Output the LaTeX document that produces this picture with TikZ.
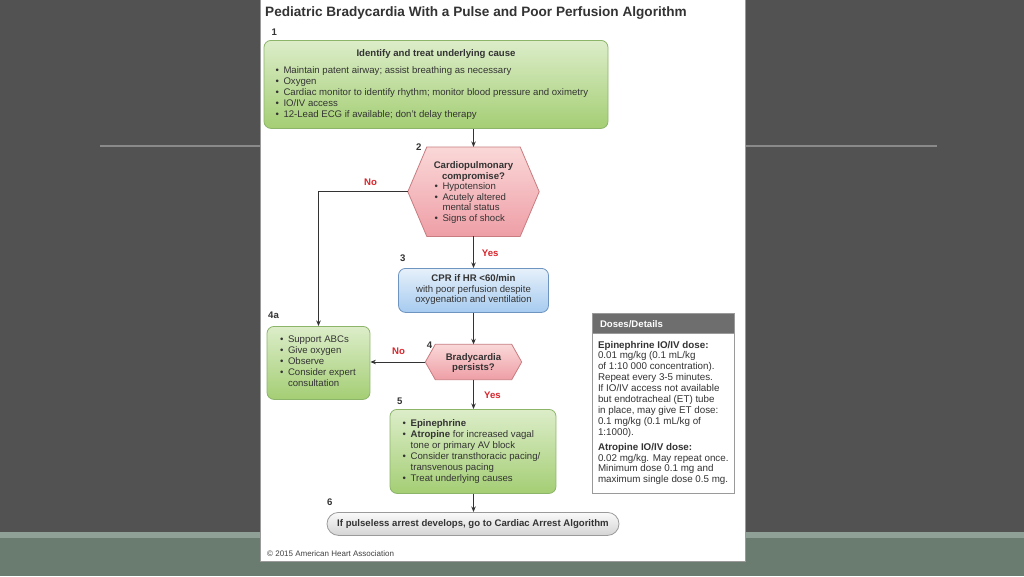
\documentclass[tikz,border=0pt]{standalone}
\usepackage{fontspec}
\setmainfont{Liberation Sans}
\usetikzlibrary{arrows.meta,calc}
\definecolor{bgdark}{HTML}{525252}
\definecolor{bandlight}{HTML}{8FA096}
\definecolor{bandgreen}{HTML}{6A7B6F}
\definecolor{rulegray}{HTML}{8A8A8A}
\definecolor{txt}{HTML}{333333}
\definecolor{gtop}{HTML}{DCEDC9}
\definecolor{gbot}{HTML}{A4CE74}
\definecolor{gline}{HTML}{8CB56A}
\definecolor{ptop}{HTML}{FAD8D8}
\definecolor{pbot}{HTML}{EE9EA6}
\definecolor{pline}{HTML}{C87C80}
\definecolor{btop}{HTML}{E6F0FA}
\definecolor{bbot}{HTML}{A6CBF0}
\definecolor{bline}{HTML}{6E94C0}
\definecolor{stop}{HTML}{FAFAFA}
\definecolor{sbot}{HTML}{D4D4D4}
\definecolor{sline}{HTML}{9A9A9A}
\definecolor{hdr}{HTML}{6E6E6E}
\definecolor{yesno}{HTML}{D9252B}
\pgfdeclarelayer{backdrop}
\pgfdeclarelayer{shapes}
\pgfsetlayers{backdrop,shapes,main}
\newcommand{\bitem}[1]{\mbox{\makebox[8pt][l]{\textbullet}#1}}
\newcommand{\bcont}[1]{\mbox{\hspace*{8pt}#1}}
\tikzset{
  boxbase/.style={inner sep=0pt, anchor=north, line width=0.8pt},
  greenbox/.style={boxbase, draw=gline, top color=gtop, bottom color=gbot, rounded corners=7pt},
  bluebox/.style={boxbase, draw=bline, top color=btop, bottom color=bbot, rounded corners=7pt},
  pillbox/.style={boxbase, draw=sline, top color=stop, bottom color=sbot, rounded corners=11.5pt},
  hextext/.style={inner sep=0pt, anchor=north},
  hexshape/.style={draw=pline, top color=ptop, bottom color=pbot, line width=0.8pt, line join=miter},
  steplabel/.style={font=\fontsize{9.6}{11}\selectfont\bfseries, anchor=base west, inner sep=0pt},
  yn/.style={font=\fontsize{9.6}{11}\selectfont\bfseries, text=yesno, anchor=base west, inner sep=0pt},
  arr/.style={draw=txt, line width=0.8pt, -{Stealth[length=5.5pt,width=4.5pt]}},
}
\begin{document}
\begin{tikzpicture}[x=1pt,y=-1pt, font=\fontsize{9.6}{11}\selectfont, text=txt]
\useasboundingbox (0,0) rectangle (1024,576);
\begin{pgfonlayer}{backdrop}
  \fill[bgdark] (0,0) rectangle (1024,576);
  \fill[bandlight] (0,532) rectangle (1024,537.5);
  \fill[bandgreen] (0,537.5) rectangle (1024,576);
  \draw[rulegray, line width=1.5pt] (100,146) -- (937,146);
  \filldraw[fill=white, draw=sline, line width=0.6pt] (260.7,-1) rectangle (745,561);
\end{pgfonlayer}

% title
\node[anchor=base west, inner sep=0pt, font=\fontsize{13.6}{16}\selectfont\bfseries, text=txt] (title) at (265,16)
  {Pediatric Bradycardia With a Pulse and Poor Perfusion Algorithm};

% step labels
\node[steplabel] (l1) at (271.5,35.5) {1};
\node[steplabel] (l2) at (416,150) {2};
\node[steplabel] (l3) at (400,261.7) {3};
\node[steplabel] (l4a) at (268,318) {4a};
\node[steplabel] (l4) at (426.7,348) {4};
\node[steplabel] (l5) at (397,404) {5};
\node[steplabel] (l6) at (327,505) {6};

% box 1
\node[greenbox, minimum width=344pt, text height=16.5pt, text depth=71.5pt] (b1) at (436,40)
 {\parbox[t]{321pt}{\raggedright
   \makebox[321pt]{\bfseries Identify and treat underlying cause}\\[5.5pt]
   \bitem{Maintain patent airway; assist breathing as necessary}\\
   \bitem{Oxygen}\\
   \bitem{Cardiac monitor to identify rhythm; monitor blood pressure and oximetry}\\
   \bitem{IO/IV access}\\
   \bitem{12-Lead ECG if available; don't delay therapy}}};

% decision 2
\node[hextext, minimum width=93pt, text height=21.7pt, text depth=67.3pt] (d2) at (473.5,147)
 {\fontsize{9.6}{10.5}\selectfont\parbox[t]{78pt}{\raggedright
   \makebox[78pt]{\bfseries Cardiopulmonary}\\
   \makebox[78pt]{\bfseries compromise?}\\
   \bitem{Hypotension}\\
   \bitem{Acutely altered}\\
   \bcont{mental status}\\
   \bitem{Signs of shock}}};
\coordinate (d2w) at ([xshift=-19pt]d2.west);
\coordinate (d2e) at ([xshift=19pt]d2.east);

% box 3
\node[bluebox, minimum width=150pt, text height=13pt, text depth=31pt] (b3) at (473.5,268)
 {\fontsize{9.6}{10.75}\selectfont\parbox[t]{150pt}{\centering
   \textbf{CPR if HR <60/min}\\
   with poor perfusion despite\\
   oxygenation and ventilation}};

% decision 4
\node[hextext, minimum width=76pt, text height=15.7pt, text depth=19.3pt] (d4) at (473.5,344.3)
 {\fontsize{9.6}{10.5}\selectfont\parbox[t]{76pt}{\centering\bfseries Bradycardia\\ persists?}};
\coordinate (d4w) at ([xshift=-10pt]d4.west);
\coordinate (d4e) at ([xshift=10pt]d4.east);

% box 4a
\node[greenbox, minimum width=103pt, text height=16.5pt, text depth=56.5pt] (b4a) at (318.5,326)
 {\parbox[t]{77pt}{\raggedright
   \bitem{Support ABCs}\\
   \bitem{Give oxygen}\\
   \bitem{Observe}\\
   \bitem{Consider expert}\\
   \bcont{consultation}}};

% box 5
\node[greenbox, minimum width=166pt, text height=17.3pt, text depth=66.7pt] (b5) at (473,409)
 {\parbox[t]{140.6pt}{\raggedright
   \bitem{\textbf{Epinephrine}}\\
   \bitem{\textbf{Atropine} for increased vagal}\\
   \bcont{tone or primary AV block}\\
   \bitem{Consider transthoracic pacing/}\\
   \bcont{transvenous pacing}\\
   \bitem{Treat underlying causes}}};

% box 6
\node[pillbox, minimum width=292pt, text height=14pt, text depth=9pt] (b6) at (473,512)
 {\bfseries If pulseless arrest develops, go to Cardiac Arrest Algorithm};

% doses box
\node[boxbase, minimum width=142pt, fill=hdr, draw=sline, text=white, font=\fontsize{9.6}{11}\selectfont\bfseries,
      text height=14.5pt, text depth=5.5pt] (dh) at (663,313)
 {\parbox[t]{126pt}{Doses/Details}};
\node[boxbase, minimum width=142pt, fill=white, draw=sline, text height=14.6pt, text depth=145.4pt] (dd) at (663,333)
 {\fontsize{9.8}{10.9}\selectfont\parbox[t]{130pt}{\raggedright
   \mbox{\textbf{Epinephrine IO/IV dose:}}\\
   \mbox{0.01 mg/kg (0.1 mL/kg}\\
   \mbox{of 1:10 000 concentration).}\\
   \mbox{Repeat every 3-5 minutes.}\\
   \mbox{If IO/IV access not available}\\
   \mbox{but endotracheal (ET) tube}\\
   \mbox{in place, may give ET dose:}\\
   \mbox{0.1 mg/kg (0.1 mL/kg of}\\
   \mbox{1:1000).}\\[4pt]
   \mbox{\textbf{Atropine IO/IV dose:}}\\
   \mbox{0.02 mg/kg. May repeat once.}\\
   \mbox{Minimum dose 0.1 mg and}\\
   \mbox{maximum single dose 0.5 mg.}}};

% hexagon outlines
\begin{pgfonlayer}{shapes}
  \path[hexshape] (d2w) -- (d2.north west) -- (d2.north east) -- (d2e) -- (d2.south east) -- (d2.south west) -- cycle;
  \path[hexshape] (d4w) -- (d4.north west) -- (d4.north east) -- (d4e) -- (d4.south east) -- (d4.south west) -- cycle;
\end{pgfonlayer}

% yes / no labels
\node[yn] (no1) at (364,185.7) {No};
\node[yn] (yes1) at (481.7,256.7) {Yes};
\node[yn] (no2) at (392,354) {No};
\node[yn] (yes2) at (484,398.3) {Yes};

% copyright
\node[anchor=base west, inner sep=0pt, font=\fontsize{8}{9}\selectfont, text=black!75] (copy) at (267,556)
  {© 2015 American Heart Association};

% connectors
\draw[arr] (b1.south -| d2.north) -- (d2.north);
\draw[arr] (d2w) -| (b4a.north);
\draw[arr] (d2.south) -- (d2.south |- b3.north);
\draw[arr] (d2.south |- b3.south) -- (d4.north);
\draw[arr] (d4w) -- (d4w -| b4a.east);
\draw[arr] (d4.south) -- (d4.south |- b5.north);
\draw[arr] (d4.south |- b5.south) -- (d4.south |- b6.north);
\end{tikzpicture}
\end{document}
